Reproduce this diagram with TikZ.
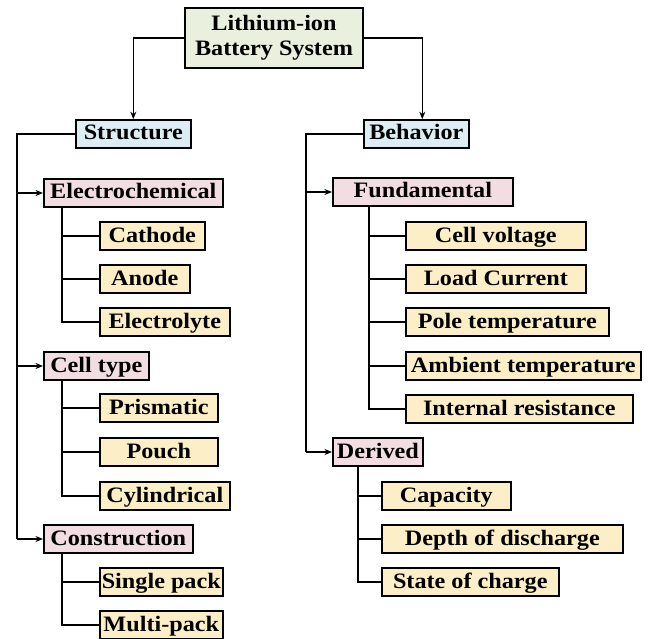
\documentclass[tikz,border=0pt]{standalone}
\usepackage{fontspec}
\setmainfont{Liberation Serif}[FakeStretch=1.1]
\usetikzlibrary{arrows.meta}
\definecolor{rootgreen}{HTML}{E9F1DE}
\definecolor{mainblue}{HTML}{DCEEF4}
\definecolor{grouppink}{HTML}{F2DDE2}
\definecolor{leafyellow}{HTML}{FCEFC7}
\begin{document}
\begin{tikzpicture}[x=1pt,y=-1pt,
  box/.style={draw=black, line width=1.6pt, inner sep=0pt, minimum height=28pt,
    text height=14pt, text depth=2pt,
    anchor=west, font=\fontsize{22}{25}\selectfont\bfseries},
  rootbox/.style={box, fill=rootgreen, align=center, minimum height=60pt,
    text height=, text depth=, anchor=center},
  mainbox/.style={box, fill=mainblue},
  groupbox/.style={box, fill=grouppink},
  leafbox/.style={box, fill=leafyellow},
  link/.style={line width=1.6pt},
  arrowlink/.style={link, -{Stealth[length=7.5pt,width=6pt]}}
]
\useasboundingbox (0,0) rectangle (653,639);

% root and the two main branches
\node[rootbox, minimum width=178pt] (root) at (274,38) {Lithium-ion\\Battery System};
\node[mainbox, minimum width=115pt] (structure) at (75,134) {Structure};
\node[mainbox, minimum width=105pt] (behavior) at (363,134) {Behavior};

% structure side
\node[groupbox, minimum width=179pt] (electro) at (43,193) {Electrochemical};
\node[leafbox, minimum width=105pt] (cathode) at (99,236) {Cathode};
\node[leafbox, minimum width=90pt] (anode) at (99,279) {Anode};
\node[leafbox, minimum width=130pt] (electrolyte) at (99,322) {Electrolyte};

\node[groupbox, minimum width=105pt] (celltype) at (43,366) {Cell type};
\node[leafbox, minimum width=118pt] (prismatic) at (99,408) {Prismatic};
\node[leafbox, minimum width=118pt] (pouch) at (99,452) {Pouch};
\node[leafbox, minimum width=130pt] (cylindrical) at (99,496) {Cylindrical};

\node[groupbox, minimum width=149pt] (construction) at (43,539) {Construction};
\node[leafbox, minimum width=123pt] (single) at (99,582) {Single pack};
\node[leafbox, minimum width=123pt] (multi) at (99,625) {Multi-pack};

% behavior side
\node[groupbox, minimum width=180pt] (fundamental) at (332,192) {Fundamental};
\node[leafbox, minimum width=180pt] (cellv) at (405,236) {Cell voltage};
\node[leafbox, minimum width=180pt] (load) at (405,279) {Load Current};
\node[leafbox, minimum width=203pt] (pole) at (405,322) {Pole temperature};
\node[leafbox, minimum width=235pt] (ambient) at (405,366) {Ambient temperature};
\node[leafbox, minimum width=227pt] (internal) at (405,409) {Internal resistance};

\node[groupbox, minimum width=90pt] (derived) at (332,452) {Derived};
\node[leafbox, minimum width=129pt] (capacity) at (381,496) {Capacity};
\node[leafbox, minimum width=241pt] (depth) at (381,539) {Depth of discharge};
\node[leafbox, minimum width=177pt] (soc) at (381,582) {State of charge};

% root to main branches
\draw[arrowlink] (root.west) -| (structure.north);
\draw[arrowlink] (root.east) -| ([xshift=6pt]behavior.north);

% structure trunk
\coordinate (lt) at (17,134);
\draw[link] (structure.west) -- (lt) -- (lt |- construction.west);
\foreach \n in {electro,celltype,construction}
  \draw[arrowlink] (lt |- \n.west) -- (\n.west);

% behavior trunk
\coordinate (rt) at (306,134);
\draw[link] (behavior.west) -- (rt) -- (rt |- derived.west);
\foreach \n in {fundamental,derived}
  \draw[arrowlink] (rt |- \n.west) -- (\n.west);

% group sub-trunks
\coordinate (e0) at ([xshift=19pt]electro.south west);
\draw[link] (e0) |- (electrolyte.west);
\foreach \n in {cathode,anode} \draw[link] (e0 |- \n.west) -- (\n.west);

\coordinate (c0) at ([xshift=19pt]celltype.south west);
\draw[link] (c0) |- (cylindrical.west);
\foreach \n in {prismatic,pouch} \draw[link] (c0 |- \n.west) -- (\n.west);

\coordinate (k0) at ([xshift=19pt]construction.south west);
\draw[link] (k0) |- (multi.west);
\draw[link] (k0 |- single.west) -- (single.west);

\coordinate (f0) at ([xshift=37pt]fundamental.south west);
\draw[link] (f0) |- (internal.west);
\foreach \n in {cellv,load,pole,ambient} \draw[link] (f0 |- \n.west) -- (\n.west);

\coordinate (d0) at ([xshift=26pt]derived.south west);
\draw[link] (d0) |- (soc.west);
\foreach \n in {capacity,depth} \draw[link] (d0 |- \n.west) -- (\n.west);
\end{tikzpicture}
\end{document}
